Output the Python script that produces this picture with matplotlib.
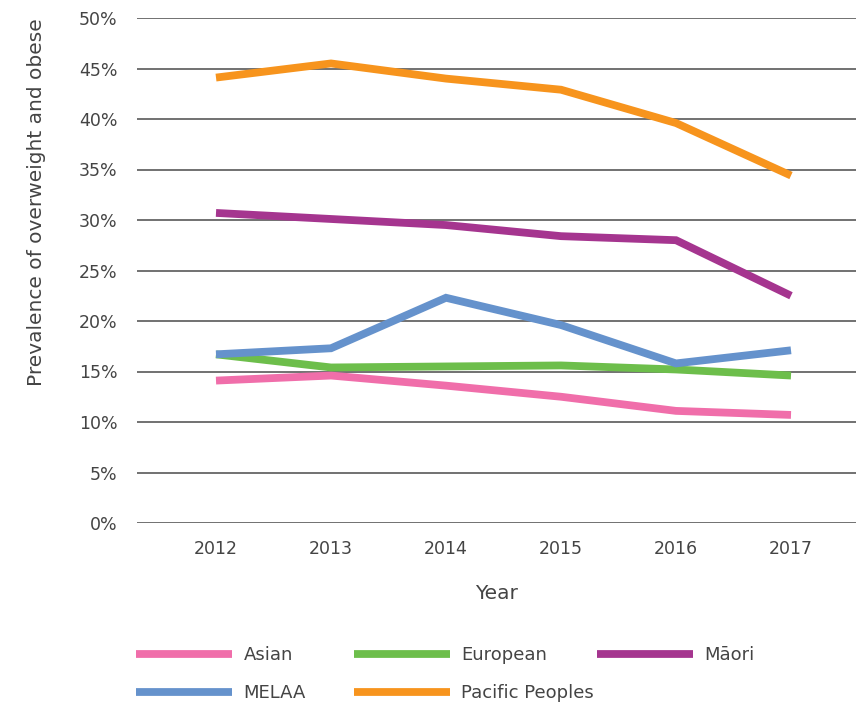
import matplotlib
matplotlib.use("Agg")
import matplotlib.pyplot as plt
from matplotlib.lines import Line2D
from matplotlib.ticker import FuncFormatter

years = [2012, 2013, 2014, 2015, 2016, 2017]
asian = [14.1, 14.6, 13.6, 12.5, 11.1, 10.7]
european = [16.7, 15.4, 15.5, 15.6, 15.2, 14.6]
maori = [30.7, 30.1, 29.5, 28.4, 28.0, 22.5]
melaa = [16.7, 17.3, 22.3, 19.6, 15.8, 17.1]
pacific = [44.1, 45.5, 44.0, 42.9, 39.6, 34.4]

series_names = ["Asian", "European", "Māori", "MELAA", "Pacific Peoples"]
series_values = [asian, european, maori, melaa, pacific]
colors = ["#F06EAA", "#6DBE4B", "#A5358F", "#6592CC", "#F7941D"]
yticks = [0, 5, 10, 15, 20, 25, 30, 35, 40, 45, 50]

plt.rcParams['font.family'] = ['DejaVu Sans']
text_color = "#444444"

W, H = 856, 709
fig = plt.figure(figsize=(W / 100, H / 100), dpi=100)
ax = fig.add_axes([137 / W, 1 - 523 / H, 1 - 137 / W, (523 - 18) / H])

lines = []
for name, vals, c in zip(series_names, series_values, colors):
    ln, = ax.plot(years, vals, color=c, lw=5.6, solid_capstyle='butt',
                  solid_joinstyle='miter', label=name, zorder=3)
    lines.append(ln)

ax.set_xlim(2012 - 79 / 115, 2017 + 65 / 115)
ax.set_ylim(0, 50)
ax.set_yticks(yticks)
ax.yaxis.set_major_formatter(FuncFormatter(lambda v, p: f"{int(v)}%"))
ax.set_xticks(years)
ax.grid(axis='y', color="#4a4a4a", lw=1.1, zorder=1)
ax.set_axisbelow(True)
for s in ax.spines.values():
    s.set_visible(False)
ax.tick_params(axis='both', length=0, labelsize=12.5, colors=text_color)
ax.tick_params(axis='y', pad=14)
ax.tick_params(axis='x', pad=12)
ax.set_xlabel("Year", fontsize=14.5, color=text_color, labelpad=19)
ax.set_ylabel("Prevalence of overweight and obese", fontsize=14.5,
              color=text_color, labelpad=24, loc='top')

positions = {
    "Asian": (136, 655),
    "European": (354, 655),
    "Māori": (597, 655),
    "MELAA": (136, 693),
    "Pacific Peoples": (354, 693),
}
for ln in lines:
    name = ln.get_label()
    x, y = positions[name]
    h = Line2D([], [], color=ln.get_color(), lw=5.6, solid_capstyle='butt')
    leg = fig.legend([h], [name], loc='center left',
                     bbox_to_anchor=(x / W, 1 - y / H), frameon=False,
                     fontsize=13, handlelength=5.3, handletextpad=0.65,
                     borderpad=0, borderaxespad=0)
    for t in leg.get_texts():
        t.set_color(text_color)

fig.savefig("out.png", dpi=100)
